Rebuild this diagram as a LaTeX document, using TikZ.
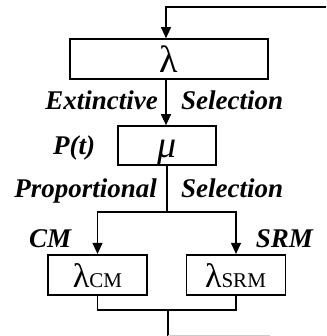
\documentclass[tikz,border=0pt]{standalone}
\usepackage{fontspec}
\setmainfont{Liberation Serif}
\usetikzlibrary{arrows.meta}
\begin{document}
\begin{tikzpicture}[x=1pt,y=-1pt,
  box/.style={draw, line width=1.6pt, minimum height=40pt, inner sep=0pt},
  conn/.style={line width=1.1pt},
  arr/.style={conn, -{Triangle[length=11pt,width=10pt]}},
  lab/.style={inner sep=0pt, font=\fontsize{27}{30}\selectfont\bfseries\itshape},
  greek/.style={inner sep=0pt, font=\fontsize{38}{40}\selectfont}]
\useasboundingbox (0,0) rectangle (326,336);
% boxes
\node[box, minimum width=198pt] (lam) at (169,59) {};
\node[box, minimum width=98pt, minimum height=39pt] (mu) at (167,145.5) {};
\node[box, minimum width=98.5pt] (cm) at (97.5,274.7) {};
\node[box, minimum width=99.3pt] (srm) at (236,274.7) {};
% box texts
\node[greek, anchor=base] (lamt) at (169,73) {λ};
\node[inner sep=0pt, anchor=base, font=\fontsize{38}{40}\selectfont\itshape] (mut) at (167,158) {μ};
\node[inner sep=0pt, anchor=base] (cmt) at (97.5,287) {{\fontsize{34}{36}\selectfont λ}{\fontsize{21}{22}\selectfont CM}};
\node[inner sep=0pt, anchor=base] (srmt) at (235.5,287) {{\fontsize{34}{36}\selectfont λ}{\fontsize{21}{22}\selectfont SRM}};
% labels
\node[lab, anchor=base east] (ext) at (158,110) {Extinctive};
\node[lab, anchor=base west] (sel1) at (181,110) {Selection};
\node[lab, anchor=base east] (prop) at (157,197) {Proportional};
\node[lab, anchor=base west] (sel2) at (181,197) {Selection};
\node[lab, anchor=base west] (pt) at (53,155) {P(t)};
\node[lab, anchor=base west] (cml) at (29,247) {CM};
\node[lab, anchor=base east] (srml) at (313,247) {SRM};
% connectors
\coordinate (tr) at (326,7);
\coordinate (tl) at (166,7);
\draw[arr] (tr) -- (tl) -- (tl |- lam.north);
\draw[arr] (lam.south -| tl) -- (mu.north -| tl);
\coordinate (split) at (167,212);
\draw[conn] (mu.south) -- (split);
\draw[arr] (split) -| (cm.north);
\draw[arr] (split) -| (srm.north);
\coordinate (merge) at (168,310);
\draw[conn] (cm.south) |- (merge);
\draw[conn] (srm.south) |- (merge);
\coordinate (out) at (168,335.5);
\coordinate (outr) at (270,335.5);
\draw[conn] (merge) -- (out);
\draw[conn, gray!40] (out) -- (outr);
\end{tikzpicture}
\end{document}
